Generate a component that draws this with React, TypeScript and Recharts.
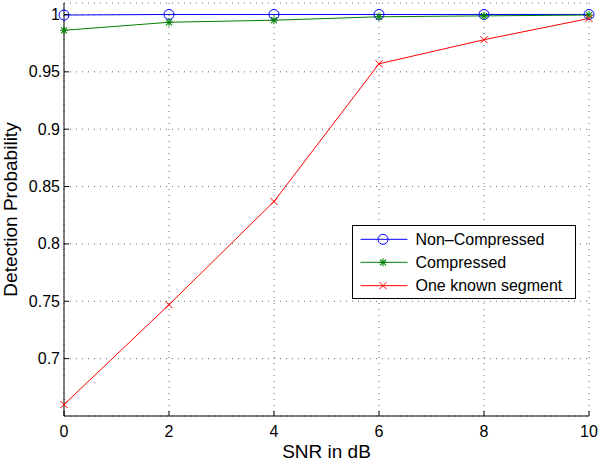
import { LineChart, Line, XAxis, YAxis, CartesianGrid, Legend } from 'recharts';

const snr = [0, 2, 4, 6, 8, 10];
const nonCompressed = [0.9995, 1, 1, 1, 1, 1];
const compressed = [0.9862, 0.9932, 0.995, 0.998, 0.9988, 0.9995];
const oneKnownSegment = [0.66, 0.747, 0.837, 0.957, 0.978, 0.9965];

const xTicks = [0, 2, 4, 6, 8, 10];
const yTicks = [0.7, 0.75, 0.8, 0.85, 0.9, 0.95, 1];

const seriesNames = ['Non\u2013Compressed', 'Compressed', 'One known segment'];
const seriesColors = ['#0000ff', '#008000', '#ff0000'];

const data = snr.map((s, i) => ({
    snr: s,
    nonCompressed: nonCompressed[i],
    compressed: compressed[i],
    oneKnown: oneKnownSegment[i],
}));

const FONT = '"Liberation Sans", Arial, Helvetica, sans-serif';
const TICK = 5;

function Circle({ cx, cy, color }: any) {
    return <circle cx={cx} cy={cy} r={5} fill="none" stroke={color} strokeWidth={1} />;
}

function Star({ cx, cy, color }: any) {
    const s = 4;
    const d = 3;
    return (
        <g stroke={color} strokeWidth={1.1}>
            <line x1={cx - s} y1={cy} x2={cx + s} y2={cy} />
            <line x1={cx} y1={cy - s} x2={cx} y2={cy + s} />
            <line x1={cx - d} y1={cy - d} x2={cx + d} y2={cy + d} />
            <line x1={cx - d} y1={cy + d} x2={cx + d} y2={cy - d} />
        </g>
    );
}

function Cross({ cx, cy, color }: any) {
    const s = 3.5;
    return (
        <g stroke={color} strokeWidth={1}>
            <line x1={cx - s} y1={cy - s} x2={cx + s} y2={cy + s} />
            <line x1={cx - s} y1={cy + s} x2={cx + s} y2={cy - s} />
        </g>
    );
}

const markers = [Circle, Star, Cross];

function BottomTick({ x, y, payload }: any) {
    return (
        <g>
            <line x1={x} y1={y} x2={x} y2={y - TICK} stroke="#000" />
            <text x={x} y={y + 21} textAnchor="middle" fontSize={16} fontFamily={FONT} fill="#000">
                {payload.value}
            </text>
        </g>
    );
}

function LeftTick({ x, y, payload }: any) {
    return (
        <g>
            <line x1={x} y1={y} x2={x + TICK} y2={y} stroke="#000" />
            <text x={x - 4} y={y + 5.5} textAnchor="end" fontSize={16} fontFamily={FONT} fill="#000">
                {payload.value}
            </text>
        </g>
    );
}

function TopTick({ x, y }: any) {
    return <line x1={x} y1={y} x2={x} y2={y + TICK} stroke="#000" />;
}

function RightTick({ x, y }: any) {
    return <line x1={x} y1={y} x2={x - TICK} y2={y} stroke="#000" />;
}

function LegendBox() {
    const rows = [14.3, 37.3, 60.7];
    return (
        <svg width={224} height={74} style={{ display: 'block' }}>
            <rect x={0.5} y={0.5} width={223} height={73} fill="#fff" stroke="#000" />
            {seriesNames.map((name, i) => {
                const M = markers[i];
                return (
                    <g key={name}>
                        <line x1={8.5} y1={rows[i]} x2={55.5} y2={rows[i]} stroke={seriesColors[i]} />
                        <M cx={31} cy={rows[i]} color={seriesColors[i]} />
                        <text x={63.5} y={rows[i] + 5.5} fontSize={16} fontFamily={FONT} fill="#000">
                            {name}
                        </text>
                    </g>
                );
            })}
        </svg>
    );
}

export default function App() {
    return (
        <div style={{ position: 'absolute', left: 0, top: 0, background: '#fff' }}>
            <LineChart width={600} height={463} data={data} margin={{ top: 3, right: 11, left: 0, bottom: 0 }}>
                <CartesianGrid stroke="#666" strokeDasharray="1 5" />
                <XAxis
                    dataKey="snr"
                    type="number"
                    domain={[0, 10]}
                    ticks={xTicks}
                    interval={0}
                    height={47}
                    tickSize={0}
                    tickMargin={0}
                    tick={<BottomTick />}
                    axisLine={{ stroke: '#000' }}
                    label={{
                        content: ({ viewBox }: any) => (
                            <text
                                x={viewBox.x + viewBox.width / 2}
                                y={viewBox.y + viewBox.height - 5}
                                textAnchor="middle"
                                fontSize={19}
                                fontFamily={FONT}
                                fill="#000"
                            >
                                SNR in dB
                            </text>
                        ),
                    }}
                />
                <XAxis
                    xAxisId="top"
                    orientation="top"
                    dataKey="snr"
                    type="number"
                    domain={[0, 10]}
                    ticks={xTicks}
                    interval={0}
                    height={0}
                    tickSize={0}
                    tickMargin={0}
                    tick={<TopTick />}
                    axisLine={{ stroke: '#000' }}
                />
                <YAxis
                    type="number"
                    domain={[0.65, 1.01]}
                    ticks={yTicks}
                    interval={0}
                    width={64}
                    tickSize={0}
                    tickMargin={0}
                    tick={<LeftTick />}
                    axisLine={{ stroke: '#000' }}
                    allowDataOverflow
                    label={{
                        content: ({ viewBox }: any) => {
                            const cx = viewBox.x + 17;
                            const cy = viewBox.y + viewBox.height / 2;
                            return (
                                <text
                                    x={cx}
                                    y={cy}
                                    transform={`rotate(-90 ${cx} ${cy})`}
                                    textAnchor="middle"
                                    fontSize={19}
                                    fontFamily={FONT}
                                    fill="#000"
                                >
                                    Detection Probability
                                </text>
                            );
                        },
                    }}
                />
                <YAxis
                    yAxisId="right"
                    orientation="right"
                    type="number"
                    domain={[0.65, 1.01]}
                    ticks={yTicks}
                    interval={0}
                    width={0}
                    tickSize={0}
                    tickMargin={0}
                    tick={<RightTick />}
                    axisLine={{ stroke: '#000' }}
                />
                <Line
                    dataKey="nonCompressed"
                    stroke={seriesColors[0]}
                    strokeWidth={1}
                    dot={(p: any) => <Circle key={`a${p.index}`} cx={p.cx} cy={p.cy} color={seriesColors[0]} />}
                    activeDot={false}
                    isAnimationActive={false}
                />
                <Line
                    dataKey="compressed"
                    stroke={seriesColors[1]}
                    strokeWidth={1}
                    dot={(p: any) => <Star key={`b${p.index}`} cx={p.cx} cy={p.cy} color={seriesColors[1]} />}
                    activeDot={false}
                    isAnimationActive={false}
                />
                <Line
                    dataKey="oneKnown"
                    stroke={seriesColors[2]}
                    strokeWidth={1}
                    dot={(p: any) => <Cross key={`c${p.index}`} cx={p.cx} cy={p.cy} color={seriesColors[2]} />}
                    activeDot={false}
                    isAnimationActive={false}
                />
                <Legend
                    layout="vertical"
                    align="center"
                    verticalAlign="middle"
                    content={() => <LegendBox />}
                    wrapperStyle={{ left: 352, top: 225, width: 224, height: 74 }}
                />
            </LineChart>
        </div>
    );
}
